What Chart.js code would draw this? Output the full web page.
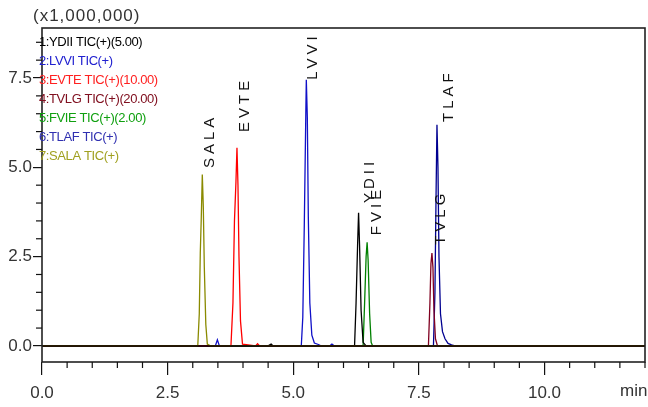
<!DOCTYPE html>
<html>
<head>
<meta charset="utf-8">
<script src="https://cdn.jsdelivr.net/npm/chart.js@4.4.1/dist/chart.umd.min.js"></script>
<style>
html,body{margin:0;padding:0;background:#fff;}
#wrap{width:648px;height:407px;}
</style>
</head>
<body>
<div id="wrap"><canvas id="c" width="648" height="407"></canvas></div>
<script>
// ---- data (retention time in min, intensity in x1,000,000) ----
const seriesNames = ["1:YDII TIC(+)(5.00)", "2:LVVI TIC(+)", "3:EVTE TIC(+)(10.00)", "4:TVLG TIC(+)(20.00)", "5:FVIE TIC(+)(2.00)", "6:TLAF TIC(+)", "7:SALA TIC(+)"];
const seriesColors = ["#000000", "#1010c8", "#ff0000", "#800020", "#008000", "#000090", "#8a8a00"];
const legendColors = ["#000000", "#2020d0", "#ff2020", "#801020", "#10a010", "#3030b0", "#a0a020"];

const ydiiT = [0, 4.50, 4.56, 4.60, 6.22, 6.25, 6.28, 6.30, 6.32, 6.35, 6.39, 6.45, 12];
const ydiiI = [0, 0, 0.05, 0, 0, 1.2, 2.8, 3.73, 2.8, 1.0, 0.1, 0, 0];

const lvviT = [0, 3.45, 3.49, 3.53, 5.16, 5.19, 5.22, 5.25, 5.26, 5.28, 5.30, 5.33, 5.37, 5.42, 5.50, 5.55, 5.72, 5.77, 5.82, 12];
const lvviI = [0, 0, 0.17, 0, 0, 0.8, 3.4, 6.5, 7.45, 6.4, 3.6, 1.2, 0.3, 0.08, 0.04, 0, 0, 0.05, 0, 0];

const evteT = [0, 3.76, 3.80, 3.83, 3.86, 3.88, 3.90, 3.92, 3.95, 3.99, 4.25, 4.29, 4.33, 12];
const evteI = [0, 0, 1.2, 3.5, 4.6, 5.55, 4.5, 2.5, 0.7, 0.05, 0, 0.06, 0, 0];

const tvlgT = [0, 7.69, 7.72, 7.74, 7.76, 7.78, 7.80, 7.83, 7.87, 12];
const tvlgI = [0, 0, 1.2, 2.3, 2.6, 2.2, 1.0, 0.2, 0, 0];

const fvieT = [0, 6.39, 6.42, 6.45, 6.47, 6.49, 6.52, 6.55, 6.58, 12];
const fvieI = [0, 0, 1.2, 2.5, 2.9, 2.4, 0.9, 0.1, 0, 0];

const tlafT = [0, 7.79, 7.82, 7.84, 7.86, 7.88, 7.90, 7.93, 7.97, 8.02, 8.08, 8.15, 8.22, 12];
const tlafI = [0, 0, 1.5, 4.0, 6.19, 5.0, 2.5, 0.9, 0.4, 0.2, 0.07, 0.03, 0, 0];

const salaT = [0, 3.10, 3.13, 3.15, 3.17, 3.19, 3.21, 3.23, 3.26, 3.29, 3.35, 12];
const salaI = [0, 0, 0.9, 2.6, 3.6, 4.8, 3.9, 2.2, 0.6, 0.05, 0, 0];

// peak annotations: name, label anchor (time, intensity) where rotated text starts
const peakNames = ["SALA", "EVTE", "LVVI", "YDII", "FVIE", "TVLG", "TLAF"];
const peakLabelT = [3.34, 4.04, 5.39, 6.53, 6.66, 7.93, 8.09];
const peakLabelI = [4.98, 5.99, 7.45, 4.0, 3.1, 2.83, 6.27];

const xTickStep = 2.5, yTickStep = 2.5, minorStep = 0.5;
const xMin = 0, xMax = 12, yMin = -0.45, yMax = 8.9;
const yAxisTitle = "(x1,000,000)";
const xAxisUnit = "min";

// ---- build datasets ----
const allT = [ydiiT, lvviT, evteT, tvlgT, fvieT, tlafT, salaT];
const allI = [ydiiI, lvviI, evteI, tvlgI, fvieI, tlafI, salaI];
const drawOrder = [6, 2, 1, 0, 4, 3, 5];
const datasets = drawOrder.map(k => ({
  label: seriesNames[k],
  data: allT[k].map((t, i) => ({x: t, y: allI[k][i]})),
  borderColor: seriesColors[k],
  borderWidth: 1.3,
  pointRadius: 0,
  tension: 0,
  fill: false
}));

const FONT = "'Liberation Sans', Arial, sans-serif";

const decor = {
  id: 'decor',
  afterDatasetsDraw(chart) {
    const {ctx, chartArea: a, scales: {x, y}} = chart;
    ctx.save();
    // zero line
    const y0 = y.getPixelForValue(0);
    ctx.strokeStyle = '#000';
    ctx.lineWidth = 1.6;
    ctx.beginPath(); ctx.moveTo(a.left, y0); ctx.lineTo(a.right, y0); ctx.stroke();
    // peak labels
    ctx.beginPath(); ctx.rect(a.left, a.top + 2, a.right - a.left, a.bottom - a.top); ctx.clip();
    ctx.fillStyle = '#111';
    ctx.font = '15px ' + FONT;
    ctx.letterSpacing = '4px';
    ctx.textAlign = 'left';
    ctx.textBaseline = 'middle';
    peakNames.forEach((n, i) => {
      ctx.save();
      ctx.translate(x.getPixelForValue(peakLabelT[i]), y.getPixelForValue(peakLabelI[i]));
      ctx.rotate(-Math.PI / 2);
      ctx.fillText(n, 0, 0);
      ctx.restore();
    });
    ctx.restore();
  },
  afterDraw(chart) {
    const {ctx, chartArea: a, scales: {x, y}} = chart;
    ctx.save();
    // frame
    ctx.strokeStyle = '#222';
    ctx.lineWidth = 1.6;
    ctx.strokeRect(a.left, a.top, a.right - a.left, a.bottom - a.top);
    // minor ticks
    ctx.lineWidth = 1.2;
    ctx.strokeStyle = '#111';
    for (let v = xMin; v <= xMax + 1e-9; v += minorStep) {
      const r = Math.abs(v / xTickStep - Math.round(v / xTickStep)) < 1e-6;
      if (r) continue;
      const px = x.getPixelForValue(v);
      ctx.beginPath(); ctx.moveTo(px, a.bottom); ctx.lineTo(px, a.bottom + 6); ctx.stroke();
    }
    for (let v = 0; v <= yMax; v += minorStep) {
      const r = Math.abs(v / yTickStep - Math.round(v / yTickStep)) < 1e-6;
      if (r) continue;
      const py = y.getPixelForValue(v);
      ctx.beginPath(); ctx.moveTo(a.left - 6, py); ctx.lineTo(a.left, py); ctx.stroke();
    }
    // legend text
    ctx.font = '13px ' + FONT;
    ctx.letterSpacing = '-0.4px';
    ctx.textAlign = 'left';
    ctx.textBaseline = 'middle';
    seriesNames.forEach((n, i) => {
      ctx.fillStyle = legendColors[i];
      ctx.fillText(n, 39, 42 + i * 19);
    });
    // axis title / unit
    ctx.fillStyle = '#333';
    ctx.font = '17px ' + FONT;
    ctx.letterSpacing = '1px';
    ctx.fillText(yAxisTitle, 33, 16);
    ctx.letterSpacing = '0px';
    ctx.fillText(xAxisUnit, 620, 391);
    ctx.restore();
  }
};

new Chart(document.getElementById('c'), {
  type: 'line',
  data: {datasets},
  options: {
    responsive: false,
    animation: false,
    parsing: true,
    layout: {padding: {top: 28, right: 3, left: 0, bottom: 0}},
    plugins: {legend: {display: false}, tooltip: {enabled: false}},
    scales: {
      x: {
        type: 'linear', min: xMin, max: xMax,
        afterFit(s) { s.height = 45; },
        border: {display: false},
        grid: {display: true, drawOnChartArea: false, drawTicks: true, tickLength: 13, color: '#111', lineWidth: 1.2},
        ticks: {stepSize: xTickStep, includeBounds: false, padding: 8, color: '#333',
          font: {size: 17, family: FONT},
          callback: v => Number(v).toFixed(1), maxRotation: 0, autoSkip: false}
      },
      y: {
        type: 'linear', min: yMin, max: yMax,
        afterFit(s) { s.width = 42; },
        border: {display: false},
        grid: {display: true, drawOnChartArea: false, drawTicks: true, tickLength: 9, color: '#111', lineWidth: 1.2},
        ticks: {stepSize: yTickStep, includeBounds: false, padding: 1, color: '#333',
          font: {size: 17, family: FONT},
          callback: v => Number(v).toFixed(1)}
      }
    }
  },
  plugins: [decor]
});
</script>
</body>
</html>
